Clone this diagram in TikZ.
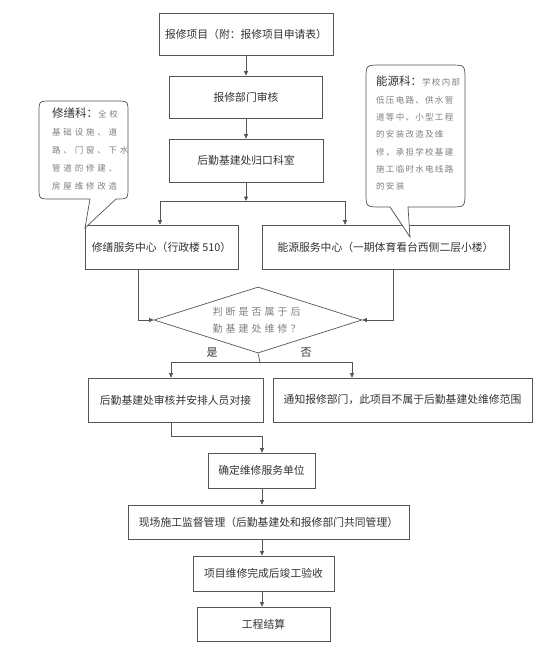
\documentclass[tikz,border=0pt]{standalone}
\usepackage{fontspec}
\setmainfont{Noto Sans CJK SC}
\usetikzlibrary{shapes.geometric,arrows.meta}
\def\sprdkern{2pt}
\def\sprd#1{\ifx#1\relax\else#1\kern\sprdkern\expandafter\sprd\fi}
\definecolor{linec}{HTML}{555555}
\definecolor{txtc}{HTML}{333333}
\definecolor{softc}{HTML}{808080}
\tikzset{
  box/.style={draw=linec, line width=0.7pt, rectangle, inner sep=0pt, text=txtc,
    font=\fontsize{10.8}{13}\selectfont, align=center},
  arr/.style={draw=linec, line width=0.7pt, -{Triangle[length=4.5pt,width=4pt]}},
  ln/.style={draw=linec, line width=0.7pt},
  callout/.style={draw=linec, line width=0.7pt, fill=white},
  lbl/.style={text=txtc, font=\fontsize{11}{13}\selectfont, inner sep=0pt}
}
\begin{document}
\begin{tikzpicture}[x=1pt,y=-1pt]
\fill[white] (0,0) rectangle (554,656);
\useasboundingbox (0,0) rectangle (554,656);

\node[box, minimum width=174, minimum height=42] (b1) at (246,34) {报修项目（附：报修项目申请表）};
\node[box, minimum width=153, minimum height=42] (b2) at (246,97) {报修部门审核};
\node[box, minimum width=154, minimum height=43] (b3) at (246,160.5) {后勤基建处归口科室};
\node[box, minimum width=153, minimum height=44] (L) at (161.5,247) {修缮服务中心（行政楼 510）};
\node[box, minimum width=247, minimum height=44] (R) at (385.5,247) {能源服务中心（一期体育看台西侧二层小楼）};
\node[draw=linec, line width=0.7pt, diamond, aspect=3.15, minimum width=208, minimum height=66,
  inner sep=0pt, text=softc, align=center, font=\fontsize{10}{16.5}\selectfont]
  (D) at (258,320) {\def\sprdkern{3pt}\sprd 判断是否属于后\relax\\\def\sprdkern{3pt}\sprd 勤基建处维修？\relax};
\node[box, minimum width=175, minimum height=44] (Y) at (175.5,400) {后勤基建处审核并安排人员对接};
\node[box, minimum width=259, minimum height=44] (N) at (402.5,400) {通知报修部门，此项目不属于后勤基建处维修范围};
\node[box, minimum width=107, minimum height=35] (c1) at (261.5,470.5) {确定维修服务单位};
\node[box, minimum width=281, minimum height=34] (c2) at (268.5,522) {现场施工监督管理（后勤基建处和报修部门共同管理）};
\node[box, minimum width=141, minimum height=35] (c3) at (263.5,573.5) {项目维修完成后竣工验收};
\node[box, minimum width=133, minimum height=34] (c4) at (263.5,624) {工程结算};

\coordinate (j1) at (246,201);
\coordinate (j2) at (260,362);
\coordinate (j3) at (262,436);

\draw[arr] (b1) -- (b2);
\draw[arr] (b2) -- (b3);
\draw[arr] (b3) -- (j1);
\draw[arr] (j1) -| ([xshift=-1.5pt]L.north);
\draw[arr] (j1) -| ([xshift=-40.5pt]R.north);
\draw[arr] ([xshift=-23.5pt]L.south) |- (D.west);
\draw[arr] ([xshift=7.5pt]R.south) |- (D.east);
\draw[ln] (D.south) -- (j2);
\draw[arr] (j2) -| ([xshift=-4.5pt]Y.north);
\draw[arr] (j2) -| ([xshift=-50.5pt]N.north);
\node[lbl] (yes) at (212,353) {是};
\node[lbl] (no) at (306,353) {否};
\draw[ln] ([xshift=-4.5pt]Y.south) |- (j3);
\draw[arr] (j3) -- (c1.north -| j3);
\draw[arr] (c1.south -| j3) -- (c2.north -| j3);
\draw[arr] (c2.south -| j3) -- (c3.north -| j3);
\draw[arr] (c3.south -| j3) -- (c4.north -| j3);

% left callout
\draw[callout] (85,228) -- (90,199) -- (51,199) .. controls (39,199) .. (39,187) -- (39,113)
  .. controls (39,101) .. (51,101) -- (116,101) .. controls (128,101) .. (128,113) -- (128,187)
  .. controls (128,199) .. (116,199) -- cycle;
\node[anchor=north west, inner sep=0pt, align=left, text=softc, font=\fontsize{8.5}{18}\selectfont] (lt) at (52,108)
  {{\color{txtc}\fontsize{11.5}{13}\selectfont 修缮科：}\def\sprdkern{2.8pt}\sprd 全校\relax\\
   \def\sprdkern{2.8pt}\sprd 基础设施、道\relax\\
   \def\sprdkern{2.8pt}\sprd 路、门窗、下水\relax\\
   \def\sprdkern{2.8pt}\sprd 管道的修建、\relax\\
   \def\sprdkern{2.8pt}\sprd 房屋维修改造\relax};

% right callout
\draw[callout] (410,237) -- (408,207) -- (450,207) .. controls (465,207) .. (465,192) -- (465,80)
  .. controls (465,65) .. (450,65) -- (381,65) .. controls (366,65) .. (366,80) -- (366,192)
  .. controls (366,207) .. (381,207) -- (390,207) -- cycle;
\node[anchor=north west, inner sep=0pt, align=left, text=softc, font=\fontsize{8.5}{17.3}\selectfont] (rt) at (376,76)
  {{\color{txtc}\fontsize{11.5}{13}\selectfont 能源科：}\def\sprdkern{1.3pt}\sprd 学校内部\relax\\
   \def\sprdkern{1.3pt}\sprd 低压电路、供水管\relax\\
   \def\sprdkern{1.3pt}\sprd 道等中、小型工程\relax\\
   \def\sprdkern{1.3pt}\sprd 的安装改造及维\relax\\
   \def\sprdkern{1.3pt}\sprd 修，承担学校基建\relax\\
   \def\sprdkern{1.3pt}\sprd 施工临时水电线路\relax\\
   \def\sprdkern{1.3pt}\sprd 的安装\relax};
\end{tikzpicture}
\end{document}
